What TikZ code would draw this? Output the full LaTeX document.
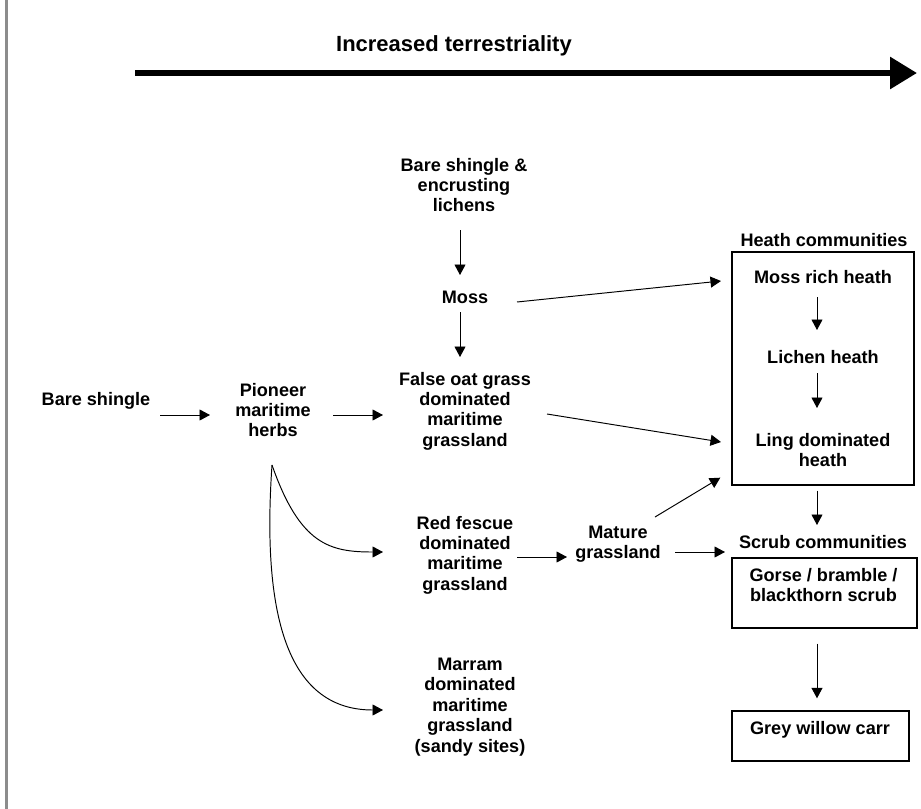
\documentclass[tikz,border=0pt]{standalone}
\usepackage{fontspec}
\setmainfont{Liberation Sans}
\usetikzlibrary{arrows.meta,calc}

\begin{document}
\begin{tikzpicture}[x=0.02cm, y=-0.02cm,
    >={Triangle[length=0.21cm,width=0.22cm]},
    lbl/.style={align=center, font=\fontsize{10.3}{11.6}\selectfont\bfseries, inner sep=0pt},
    comm/.style={draw, line width=0.8pt, inner sep=0pt},
    flow/.style={->, line width=0.55pt}]
        \useasboundingbox (0,0) rectangle (921,809);
        \draw[line width=1.2pt, color=black!45] (6.5,0) -- (6.5,809);

        % terrestriality axis
        \node[lbl, font=\fontsize{12.5}{14}\selectfont\bfseries] (title) at (454,46) {Increased terrestriality};
        \coordinate (axisL) at (135,73);
        \coordinate (axisR) at (917,73);
        \draw[line width=3.4pt, -{Triangle[length=0.54cm,width=0.62cm]}] (axisL) -- (axisR);

        % succession stages
        \node[lbl] (bare) at (96,401) {Bare shingle};
        \node[lbl] (pioneer) at (273,410) {Pioneer\\maritime\\herbs};
        \node[lbl] (enc) at (464,185) {Bare shingle \&\\encrusting\\lichens};
        \node[lbl] (moss) at (465,297) {Moss};
        \node[lbl] (falseoat) at (465,411) {False oat grass\\dominated\\maritime\\grassland};
        \node[lbl] (redfescue) at (465,555) {Red fescue\\dominated\\maritime\\grassland};
        \node[lbl] (marram) at (470,707) {Marram\\dominated\\maritime\\grassland\\(sandy sites)};
        \node[lbl] (mature) at (618,544) {Mature\\grassland};

        % heath and scrub
        \node[comm, minimum width=3.64cm, minimum height=4.66cm] (heathbox) at (823,368.5) {};
        \node[lbl] (heathtitle) at (824,240) {Heath communities};
        \node[lbl] (mossrich) at (823,277) {Moss rich heath};
        \node[lbl] (lichen) at (823,357) {Lichen heath};
        \node[lbl] (ling) at (823,450) {Ling dominated\\heath};
        \node[lbl] (scrubtitle) at (823,542) {Scrub communities};
        \node[comm, minimum width=3.7cm, minimum height=1.4cm] (scrubbox) at (824.5,593) {};
        \node[lbl] (gorse) at (823.5,585) {Gorse / bramble /\\blackthorn scrub};
        \node[comm, minimum width=3.54cm, minimum height=1cm] (greybox) at (820.5,736) {};
        \node[lbl] (grey) at (820,730) {Grey willow carr};

        \draw[flow] ($(bare)+(64,14)$) -- ($(pioneer)+(-63,5)$);
        \draw[flow] ($(pioneer)+(60,5)$) -- ($(falseoat)+(-82,4)$);
        \draw[flow] ($(enc)+(-4,45)$) -- ($(moss)+(-5,-22)$);
        \draw[flow] ($(moss)+(-5,15)$) -- ($(falseoat)+(-5,-54)$);
        \draw[flow] ($(moss)+(52,5)$) -- ($(mossrich)+(-102,4)$);
        \draw[flow] ($(falseoat)+(82,3)$) -- ($(ling)+(-102,-8)$);
        \draw[flow] ($(mature)+(37,-27)$) -- ($(heathbox.south west)+(-11,-8)$);
        \draw[flow] ($(redfescue)+(52,2)$) -- ($(mature)+(-51,13)$);
        \draw[flow] ($(mature)+(57,8)$) -- ($(scrubtitle)+(-98,10)$);
        \draw[flow] ($(mossrich)+(-6,20)$) -- ($(lichen)+(-6,-27)$);
        \draw[flow] ($(lichen)+(-6,16)$) -- ($(ling)+(-6,-42)$);
        \draw[flow] ($(heathbox.south)+(-6,5)$) -- ($(scrubtitle)+(-6,-17)$);
        \draw[flow] ($(scrubbox.south)+(-7.5,15)$) -- ($(greybox.north)+(-3.5,-12)$);
        \draw[flow] ($(pioneer)+(-1,55)$) .. controls ($(pioneer)+(27,135)$) and ($(pioneer)+(57,142)$) .. ($(redfescue)+(-82,-3)$);
        \draw[flow] ($(pioneer)+(-1,55)$) .. controls ($(pioneer)+(-11,200)$) and ($(pioneer)+(12,300)$) .. ($(marram)+(-87,3)$);
\end{tikzpicture}
\end{document}
